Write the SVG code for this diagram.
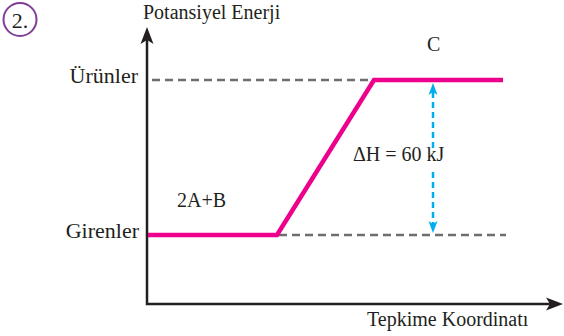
<svg xmlns="http://www.w3.org/2000/svg" width="564" height="336" viewBox="0 0 564 336">
<style>
text{font-family:"Liberation Serif","Times New Roman",serif;font-size:20px;fill:#231f20}
.lbl{font-size:22px}
.axis{stroke:#231f20;stroke-width:2.5;fill:none}
.dash{stroke:#6d6e70;stroke-width:2.5;stroke-dasharray:8 5;fill:none}
.pink{stroke:#ec008c;stroke-width:4.5;fill:none;stroke-linejoin:miter}
.blue{stroke:#00aeef;stroke-width:2.5;stroke-dasharray:6 4;fill:none}
</style>
<rect width="564" height="336" fill="#fff"/>
<g id="badge">
<circle cx="20" cy="19.5" r="16.5" fill="none" stroke="#7f3f98" stroke-width="2"/>
<text x="20" y="27.5" text-anchor="middle" style="font-size:22px">2.</text>
</g>
<g id="axes">
<path class="axis" d="M147,36 V304 H552"/>
<path d="M147,27 L153.5,44 L147,40 L140.5,44 Z" fill="#231f20"/>
<path d="M563,304 L546,297.5 L550,304 L546,310.5 Z" fill="#231f20"/>
<text x="143" y="18.5">Potansiyel Enerji</text>
<text x="367" y="326">Tepkime Koordinatı</text>
</g>
<g id="levels">
<path class="dash" d="M152,80 H373"/>
<path class="dash" d="M279,235 H506"/>
<text class="lbl" x="138" y="83" text-anchor="end">Ürünler</text>
<text class="lbl" x="139" y="238" text-anchor="end">Girenler</text>
</g>
<g id="curve">
<path class="pink" d="M148,235 H277 L374,80 H503"/>
<text x="177" y="207">2A+B</text>
<text x="427" y="51">C</text>
</g>
<g id="connectors">
<path class="blue" d="M433,92 V148"/>
<path d="M433,83 L437.5,95 L433,92 L428.5,95 Z" fill="#00aeef"/>
<path class="blue" d="M433,172 V224"/>
<path d="M433,233 L437.5,221 L433,224 L428.5,221 Z" fill="#00aeef"/>
<text x="353" y="161">ΔH = 60 kJ</text>
</g>
</svg>
